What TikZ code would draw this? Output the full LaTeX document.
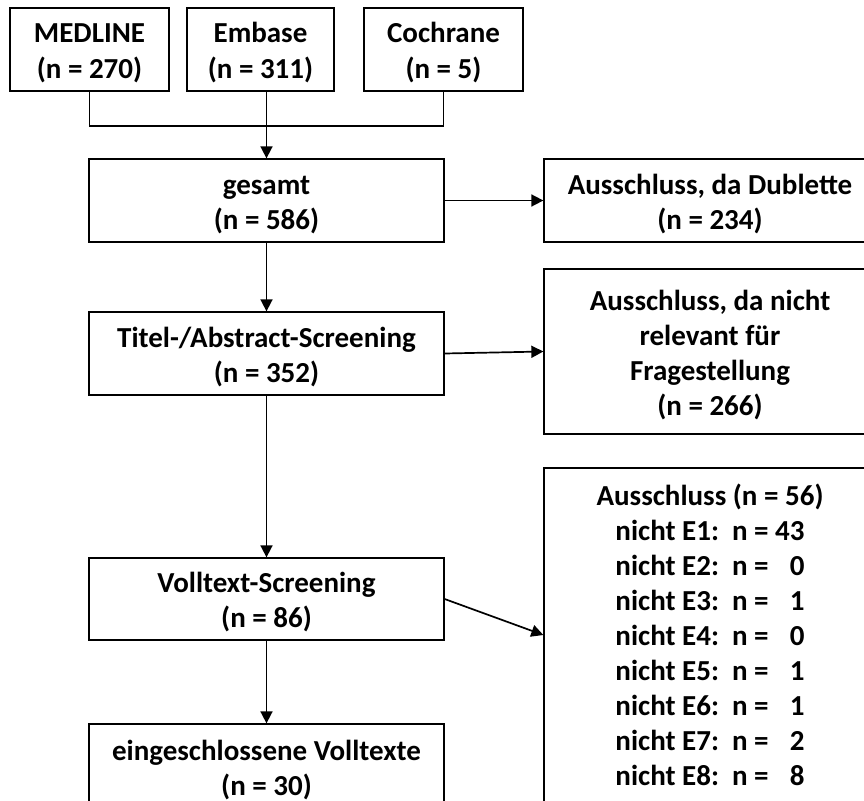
\documentclass[tikz,border=0pt]{standalone}
\usepackage{fontspec}
\setmainfont{Carlito}
\usetikzlibrary{arrows.meta}
\newcommand{\lowtext}[2][4pt]{\raisebox{-#1}[\height][\depth]{\begin{tabular}{@{}c@{}}#2\end{tabular}}}
\begin{document}
\begin{tikzpicture}[x=1pt,y=-1pt,
  box/.style={draw, line width=1.3pt, align=center, inner sep=0pt,
    font=\bfseries\fontsize{29}{35}\selectfont},
  conn/.style={line width=1.7pt},
  arr/.style={line width=1.7pt, -{Triangle[length=12pt,width=12pt]}}]
\useasboundingbox (0,0) rectangle (864,800);
\fill[white] (0,0) rectangle (864,800);
% sources
\node[box, minimum width=159pt, minimum height=83pt] (med) at (89.5,49.5) {\lowtext{MEDLINE\\(n = 270)}};
\node[box, minimum width=147pt, minimum height=83pt] (emb) at (260.5,49.5) {\lowtext{Embase\\(n = 311)}};
\node[box, minimum width=159pt, minimum height=83pt] (cch) at (443.5,49.5) {\lowtext{Cochrane\\(n = 5)}};
% main column
\node[box, minimum width=355pt, minimum height=83pt] (ges) at (266.5,200.5) {\lowtext{gesamt\\(n = 586)}};
\node[box, minimum width=355pt, minimum height=83pt] (tit) at (266.5,353.5) {\lowtext{Titel-/Abstract-Screening\\(n = 352)}};
\node[box, minimum width=355pt, minimum height=82pt] (vol) at (266.5,599) {\lowtext{Volltext-Screening\\(n = 86)}};
\node[box, minimum width=355pt, minimum height=89pt] (ein) at (266.5,768.5) {\lowtext[2pt]{eingeschlossene Volltexte\\(n = 30)}};
% exclusions
\node[box, minimum width=332pt, minimum height=83pt] (dub) at (710,200.5) {\lowtext{Ausschluss, da Dublette\\(n = 234)}};
\node[box, minimum width=332pt, minimum height=165pt] (rel) at (710,351.5) {\lowtext{Ausschluss, da nicht\\relevant für\\Fragestellung\\(n = 266)}};
\node[box, minimum width=332pt, minimum height=334pt] (aus) at (710,635) {\lowtext[3pt]{Ausschluss (n = 56)\\
nicht E1:\hspace{0.45em}n = 43\\
nicht E2:\hspace{0.45em}n = \phantom{4}0\\
nicht E3:\hspace{0.45em}n = \phantom{4}1\\
nicht E4:\hspace{0.45em}n = \phantom{4}0\\
nicht E5:\hspace{0.45em}n = \phantom{4}1\\
nicht E6:\hspace{0.45em}n = \phantom{4}1\\
nicht E7:\hspace{0.45em}n = \phantom{4}2\\
nicht E8:\hspace{0.45em}n = \phantom{4}8}};
% connectors
\coordinate (jn) at (266.5,126);
\draw[conn] (med.south) |- (jn);
\draw[conn] (cch.south) |- (jn);
\draw[conn] (emb.south -| jn) -- (jn);
\draw[arr] (jn) -- (ges.north);
\draw[arr] (ges.east) -- (dub.west);
\draw[arr] (ges.south) -- (tit.north);
\draw[arr] (tit.east) -- (rel.west);
\draw[arr] (tit.south) -- (vol.north);
\draw[arr] (vol.east) -- (aus.west);
\draw[arr] (vol.south) -- (ein.north);
\end{tikzpicture}
\end{document}
